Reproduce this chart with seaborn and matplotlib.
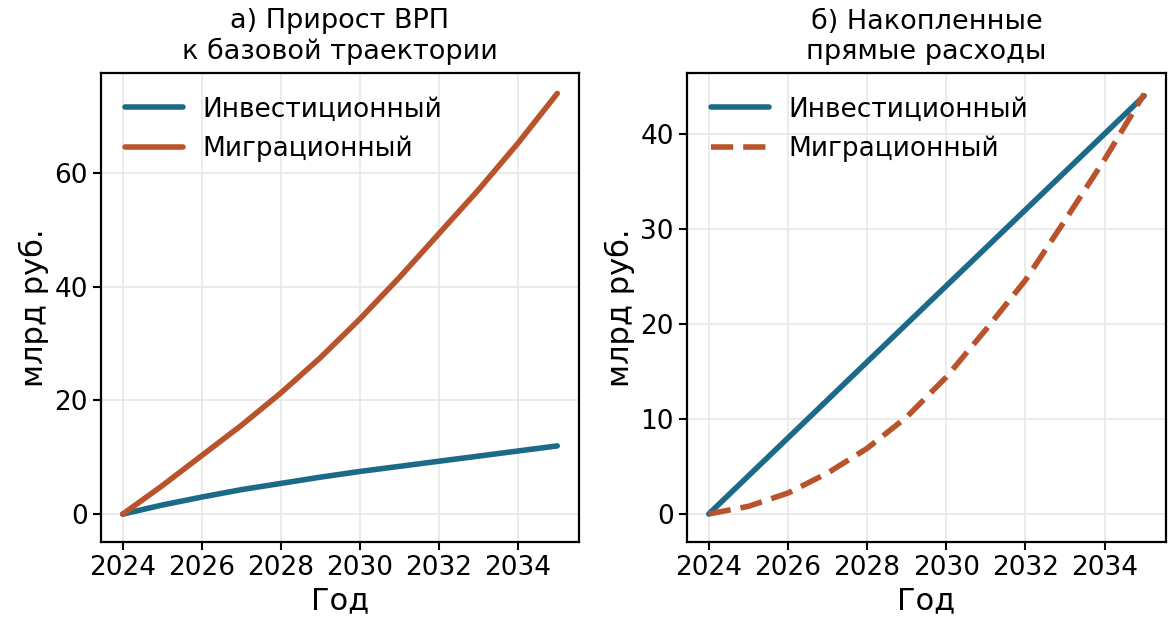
import numpy as np
import pandas as pd
import matplotlib
matplotlib.use("Agg")
import matplotlib.pyplot as plt
import seaborn as sns

# ── data ─────────────────────────────────────────────────────────
years = list(range(2024, 2036))
series_names = ["Инвестиционный", "Миграционный"]

gdp_invest = [0, 1.6, 3.0, 4.3, 5.4, 6.5, 7.5, 8.4, 9.3, 10.2, 11.1, 12.0]
gdp_migr = [0, 5.0, 10.3, 15.6, 21.3, 27.5, 34.3, 41.6, 49.3, 57.0, 65.2, 74.0]

cost_invest = [0, 4, 8, 12, 16, 20, 24, 28, 32, 36, 40, 44]
cost_migr = [0, 0.8, 2.2, 4.3, 6.9, 10.2, 14.4, 19.4, 24.6, 30.9, 37.3, 44.2]

titles = ["а) Прирост ВРП\nк базовой траектории",
          "б) Накопленные\nпрямые расходы"]
ylabel = "млрд руб."
xlabel = "Год"

palette = {"Инвестиционный": "#1b6a87", "Миграционный": "#b8532b"}


def long_df(a, b):
    return pd.DataFrame({
        "year": years * 2,
        "value": a + b,
        "scenario": [series_names[0]] * len(years) + [series_names[1]] * len(years),
    })


df_gdp = long_df(gdp_invest, gdp_migr)
df_cost = long_df(cost_invest, cost_migr)

# ── plot ─────────────────────────────────────────────────────────
sns.set_style("ticks")
plt.rcParams["font.family"] = ["DejaVu Sans"]
plt.rcParams["text.color"] = "black"
plt.rcParams["axes.labelcolor"] = "black"
plt.rcParams["xtick.color"] = "black"
plt.rcParams["ytick.color"] = "black"

fig, axes = plt.subplots(1, 2, figsize=(11.73, 6.27), dpi=100)
axes[0].set_position([0.0861, 0.1356, 0.4936 - 0.0861, 0.8836 - 0.1356])
axes[1].set_position([0.5857, 0.1356, 0.994 - 0.5857, 0.8836 - 0.1356])

sns.lineplot(data=df_gdp, x="year", y="value", hue="scenario", palette=palette,
             linewidth=4.0, ax=axes[0])
sns.lineplot(data=df_cost, x="year", y="value", hue="scenario", style="scenario",
             dashes={"Инвестиционный": "", "Миграционный": (4, 1.8)},
             palette=palette, linewidth=4.0, ax=axes[1])

for ax, title in zip(axes, titles):
    ax.set_title(title, fontsize=19.5, pad=10)
    ax.set_xlabel(xlabel, fontsize=22)
    ax.set_ylabel(ylabel, fontsize=22)
    ax.set_xticks([2024, 2026, 2028, 2030, 2032, 2034])
    ax.tick_params(labelsize=19, length=6, width=1.5)
    ax.grid(True, color="#e8e8e8", linewidth=1.2)
    for s in ax.spines.values():
        s.set_linewidth(1.6)
        s.set_color("black")
    ax.legend(frameon=False, loc="upper left", fontsize=19,
              handlelength=2.2, handletextpad=0.75)

axes[0].set_yticks([0, 20, 40, 60])
axes[0].set_ylim(-4.9, 77.6)
axes[1].set_yticks([0, 10, 20, 30, 40])
axes[1].set_ylim(-2.95, 46.4)

plt.savefig("out.png", dpi=100)
